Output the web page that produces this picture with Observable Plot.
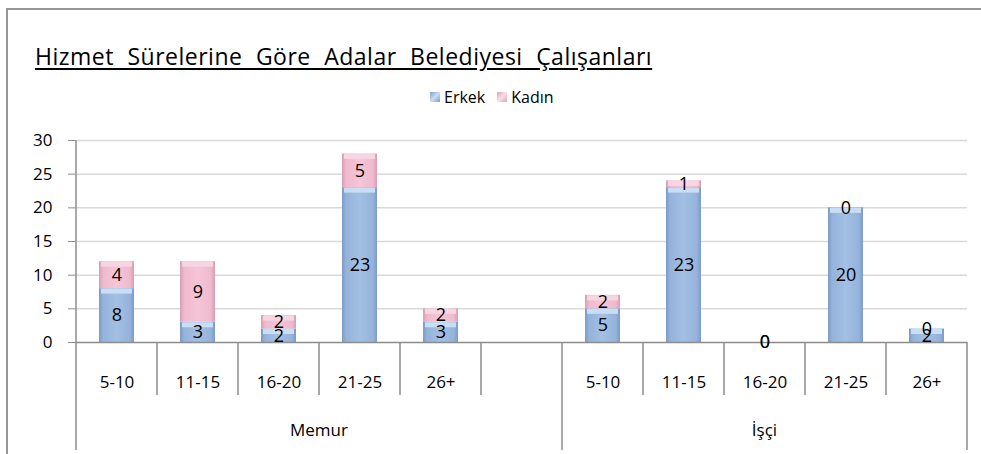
<!DOCTYPE html>
<html><head><meta charset="utf-8">
<script src="https://cdn.jsdelivr.net/npm/d3@7"></script>
<script src="https://cdn.jsdelivr.net/npm/@observablehq/plot@0.6"></script>
<style>
html,body{margin:0;padding:0;background:#fff;overflow:hidden;width:981px;height:454px;}
body{font-family:"Open Sans",sans-serif;color:#000;position:relative;}
#frame{position:absolute;left:6px;top:8px;width:1000px;height:470px;border-top:2px solid #959595;border-left:2px solid #959595;}
#title{position:absolute;left:35px;top:41px;font-size:23px;line-height:31px;text-decoration:underline;text-underline-offset:3px;white-space:pre;word-spacing:7px;letter-spacing:0.5px;}
#legend{position:absolute;top:86px;left:430px;display:flex;align-items:center;font-size:16px;}
#legend .sw{width:10px;height:10px;margin-right:4px;}
#legend .item{display:flex;align-items:center;margin-right:12px;}
#chart{position:absolute;left:0;top:120px;}
</style></head>
<body>
<div id="frame"></div>
<div id="title">Hizmet Sürelerine Göre Adalar Belediyesi Çalışanları</div>
<div id="legend"></div>
<div id="chart"></div>
<script>
const groups = ["Memur", "İşçi"];
const categories = ["5-10", "11-15", "16-20", "21-25", "26+"];
const series = ["Erkek", "Kadın"];
const memurErkek = [8, 3, 2, 23, 3];
const memurKadin = [4, 9, 2, 5, 2];
const isciErkek = [5, 23, 0, 20, 2];
const isciKadin = [2, 1, 0, 0, 0];
const yTicks = [0, 5, 10, 15, 20, 25, 30];

const valuesBy = {
  "Memur": {"Erkek": memurErkek, "Kadın": memurKadin},
  "İşçi": {"Erkek": isciErkek, "Kadın": isciKadin}
};
const keys = [];
const rows = [];
groups.forEach((g, gi) => {
  categories.forEach((c, ci) => {
    const key = g + "|" + c;
    keys.push(key);
    series.forEach(s => rows.push({key, group: g, cat: c, sex: s, value: valuesBy[g][s][ci]}));
  });
  if (gi === 0) keys.push(g + "|");
});

// legend
const legend = document.getElementById("legend");
const swatchCss = {
  "Erkek": "linear-gradient(135deg,#7f9fcb,#c9ddf3 50%,#7f9fcb)",
  "Kadın": "linear-gradient(135deg,#dba0b5,#fbe0ea 50%,#dba0b5)"
};
series.forEach(s => {
  const it = document.createElement("div"); it.className = "item";
  const sw = document.createElement("div"); sw.className = "sw"; sw.style.background = swatchCss[s];
  const t = document.createElement("span"); t.textContent = s;
  it.appendChild(sw); it.appendChild(t); legend.appendChild(it);
});

const plot = Plot.plot({
  width: 981, height: 334,
  marginLeft: 75, marginRight: 14, marginTop: 20, marginBottom: 112,
  style: {fontFamily: "Open Sans", fontSize: "17px", color: "#000", background: "transparent", overflow: "visible"},
  x: {domain: keys, paddingInner: 0.57, paddingOuter: 0.285},
  y: {domain: [0, 30]},
  color: {domain: ["Erkek", "Kadın", "capE", "capK"], range: ["url(#gE)", "url(#gK)", "#c9def4", "#f8d5e2"]},
  marks: [
    Plot.gridY(yTicks.filter(d => d > 0), {stroke: "#d9d9d9", strokeOpacity: 1, strokeWidth: 1.5}),
    Plot.barY(rows, Plot.stackY({x: "key", y: "value", fill: "sex"})),
    Plot.tickY(rows, Plot.stackY2({filter: d => d.value > 0, x: "key", y: "value",
      stroke: d => d.sex === "Erkek" ? "capE" : "capK", strokeWidth: 5, dy: 2.5, inset: 2})),
    Plot.ruleY([0], {stroke: "#8c8c8c", strokeWidth: 1.5}),
    Plot.axisY({ticks: yTicks, tickSize: 7, tickPadding: 16, stroke: "#8c8c8c", fontSize: 17, label: null}),
    Plot.axisX({tickSize: 0, tickPadding: 33, tickFormat: k => k.split("|")[1], fontSize: 17, label: null}),
    Plot.text(rows, Plot.stackY({x: "key", y: "value", text: "value", fontSize: 18, fill: "#000"}))
  ]
});

const svg = d3.select(plot);
const defs = svg.insert("defs", ":first-child");
function grad(id, edge, mid, center) {
  const g = defs.append("linearGradient").attr("id", id).attr("x1", 0).attr("x2", 1).attr("y1", 0).attr("y2", 0);
  [[0, edge], [0.12, mid], [0.5, center], [0.88, mid], [1, edge]].forEach(([o, c]) =>
    g.append("stop").attr("offset", o).attr("stop-color", c));
}
grad("gE", "#7b9bc7", "#95b3db", "#a3bfe3");
grad("gK", "#d99db3", "#efbacd", "#f5c5d7");

const xs = plot.scale("x");
const ys = plot.scale("y");
const step = xs.step, bw = xs.bandwidth;
const boundary = i => i < keys.length ? xs.apply(keys[i]) - (step - bw) / 2 : xs.apply(keys[keys.length - 1]) + bw + (step - bw) / 2;
const yTop = ys.apply(30), y0 = ys.apply(0);
const deco = svg.append("g").attr("stroke", "#8c8c8c").attr("stroke-width", 1.5);
deco.append("line").attr("x1", boundary(0)).attr("x2", boundary(0)).attr("y1", yTop).attr("y2", 330);
const groupEdges = [0, 6, 11];
for (let i = 1; i <= keys.length; i++) {
  const long = groupEdges.includes(i);
  deco.append("line").attr("x1", boundary(i)).attr("x2", boundary(i))
    .attr("y1", y0).attr("y2", long ? 330 : 275);
}
const glab = svg.append("g").attr("font-size", 17).attr("text-anchor", "middle").attr("fill", "#000");
[[0, 6], [6, 11]].forEach(([a, b], gi) => {
  glab.append("text").attr("x", (boundary(a) + boundary(b)) / 2).attr("y", 316).text(groups[gi]);
});

document.getElementById("chart").appendChild(plot);
</script>
</body></html>
